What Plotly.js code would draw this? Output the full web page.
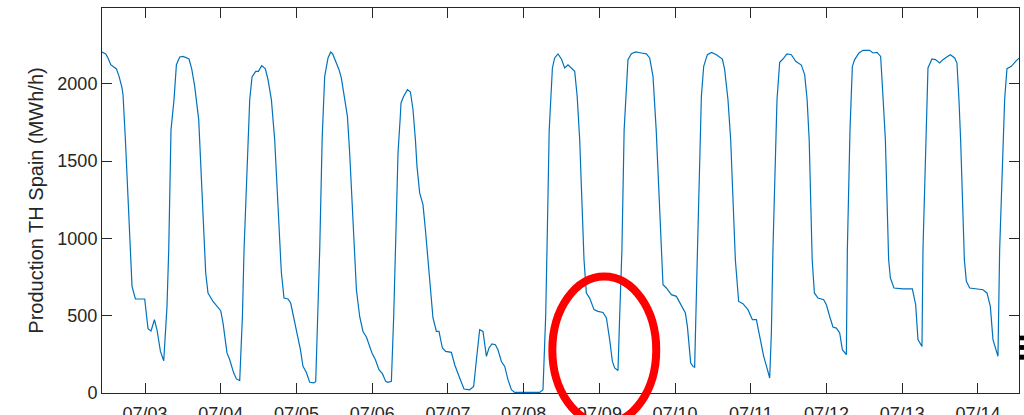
<!DOCTYPE html>
<html>
<head>
<meta charset="utf-8">
<script src="https://cdn.plot.ly/plotly-3.0.1.min.js"></script>
<style>html,body{margin:0;padding:0;background:#fff;}#chart{width:1024px;height:415px;}</style>
</head>
<body>
<div id="chart"></div>
<script>
const times = [
"2022-07-02 10:22","2022-07-02 11:33","2022-07-02 12:16","2022-07-02 13:08","2022-07-02 14:56","2022-07-02 15:46","2022-07-02 16:43","2022-07-02 17:02","2022-07-02 17:47","2022-07-02 19:53","2022-07-02 20:57","2022-07-02 23:54",
"2022-07-03 00:57","2022-07-03 01:54","2022-07-03 02:59","2022-07-03 03:48","2022-07-03 04:53","2022-07-03 05:56","2022-07-03 06:58","2022-07-03 07:31","2022-07-03 08:14","2022-07-03 09:11","2022-07-03 09:57","2022-07-03 11:00","2022-07-03 12:03","2022-07-03 13:57","2022-07-03 14:48","2022-07-03 15:45","2022-07-03 17:01","2022-07-03 18:55","2022-07-03 19:14","2022-07-03 19:58","2022-07-03 21:33","2022-07-03 23:59",
"2022-07-04 00:43","2022-07-04 01:59","2022-07-04 02:51","2022-07-04 04:07","2022-07-04 04:58","2022-07-04 06:01","2022-07-04 06:52","2022-07-04 07:23","2022-07-04 08:42","2022-07-04 09:11","2022-07-04 09:55","2022-07-04 11:05","2022-07-04 11:56","2022-07-04 12:59","2022-07-04 14:09","2022-07-04 14:59","2022-07-04 16:03","2022-07-04 17:06","2022-07-04 19:00","2022-07-04 19:14","2022-07-04 20:03","2022-07-04 21:19","2022-07-04 22:10",
"2022-07-05 00:00","2022-07-05 01:15","2022-07-05 02:04","2022-07-05 03:09","2022-07-05 04:12","2022-07-05 05:28","2022-07-05 06:06","2022-07-05 06:50","2022-07-05 07:22","2022-07-05 08:09","2022-07-05 08:57","2022-07-05 10:00","2022-07-05 10:51","2022-07-05 11:29","2022-07-05 12:26","2022-07-05 13:29","2022-07-05 14:14","2022-07-05 15:17","2022-07-05 16:09","2022-07-05 16:52","2022-07-05 18:27","2022-07-05 19:00","2022-07-05 20:02","2022-07-05 21:05","2022-07-05 22:10","2022-07-05 23:56",
"2022-07-06 01:01","2022-07-06 02:09","2022-07-06 03:14","2022-07-06 04:17","2022-07-06 05:00","2022-07-06 06:05","2022-07-06 06:49","2022-07-06 07:27","2022-07-06 08:11","2022-07-06 08:53","2022-07-06 09:08","2022-07-06 09:59","2022-07-06 11:10","2022-07-06 12:07","2022-07-06 12:56","2022-07-06 13:42","2022-07-06 14:12","2022-07-06 15:03","2022-07-06 16:06","2022-07-06 16:52","2022-07-06 17:41","2022-07-06 18:14","2022-07-06 19:16","2022-07-06 20:21","2022-07-06 21:10","2022-07-06 22:15","2022-07-06 23:18",
"2022-07-07 01:06","2022-07-07 02:09","2022-07-07 03:44","2022-07-07 05:06","2022-07-07 06:54","2022-07-07 08:10","2022-07-07 09:02","2022-07-07 10:04","2022-07-07 11:07","2022-07-07 12:12","2022-07-07 13:01","2022-07-07 13:58","2022-07-07 15:03","2022-07-07 15:52","2022-07-07 16:57","2022-07-07 18:00","2022-07-07 19:02","2022-07-07 20:07","2022-07-07 21:10",
"2022-07-08 05:05","2022-07-08 06:08","2022-07-08 06:59","2022-07-08 07:24","2022-07-08 08:06","2022-07-08 09:07","2022-07-08 09:50","2022-07-08 10:53","2022-07-08 11:58","2022-07-08 13:01","2022-07-08 14:03","2022-07-08 16:11","2022-07-08 16:58","2022-07-08 17:46","2022-07-08 19:08","2022-07-08 19:53","2022-07-08 20:56","2022-07-08 22:18","2022-07-08 23:34",
"2022-07-09 01:09","2022-07-09 02:14","2022-07-09 03:16","2022-07-09 04:08","2022-07-09 04:51","2022-07-09 05:54","2022-07-09 06:26","2022-07-09 07:09","2022-07-09 07:51","2022-07-09 08:34","2022-07-09 09:04","2022-07-09 10:09","2022-07-09 11:31","2022-07-09 13:19","2022-07-09 14:54","2022-07-09 15:57","2022-07-09 17:00","2022-07-09 18:01","2022-07-09 19:39","2022-07-09 20:10","2022-07-09 21:14","2022-07-09 22:50",
"2022-07-10 00:25","2022-07-10 01:27","2022-07-10 02:30","2022-07-10 03:16","2022-07-10 03:54","2022-07-10 04:57","2022-07-10 05:40","2022-07-10 06:12","2022-07-10 07:04","2022-07-10 07:53","2022-07-10 08:20","2022-07-10 09:04","2022-07-10 10:14","2022-07-10 11:30","2022-07-10 13:05","2022-07-10 14:59","2022-07-10 15:43","2022-07-10 16:46","2022-07-10 17:37","2022-07-10 19:06","2022-07-10 20:09","2022-07-10 21:31","2022-07-10 23:06",
"2022-07-11 00:30","2022-07-11 01:46","2022-07-11 02:49","2022-07-11 04:05","2022-07-11 05:07","2022-07-11 05:59","2022-07-11 06:31","2022-07-11 07:01","2022-07-11 08:02","2022-07-11 08:18","2022-07-11 09:09","2022-07-11 10:11","2022-07-11 11:27","2022-07-11 12:51","2022-07-11 14:13","2022-07-11 16:01","2022-07-11 17:04","2022-07-11 17:51","2022-07-11 18:30","2022-07-11 19:27","2022-07-11 20:09","2022-07-11 21:17","2022-07-11 23:06","2022-07-11 23:57",
"2022-07-12 01:00","2022-07-12 02:02","2022-07-12 03:07","2022-07-12 04:10","2022-07-12 05:01","2022-07-12 06:17","2022-07-12 06:36","2022-07-12 07:26","2022-07-12 08:11","2022-07-12 08:55","2022-07-12 10:17","2022-07-12 11:33","2022-07-12 13:40","2022-07-12 14:43","2022-07-12 15:59","2022-07-12 17:09","2022-07-12 17:53","2022-07-12 18:39","2022-07-12 19:41","2022-07-12 20:14","2022-07-12 21:22",
"2022-07-13 00:13","2022-07-13 03:12","2022-07-13 04:15","2022-07-13 04:59","2022-07-13 06:15","2022-07-13 06:34","2022-07-13 07:31","2022-07-13 08:09","2022-07-13 09:25","2022-07-13 10:30","2022-07-13 11:51","2022-07-13 12:54","2022-07-13 13:59","2022-07-13 15:15","2022-07-13 16:37","2022-07-13 17:20","2022-07-13 17:58","2022-07-13 18:30","2022-07-13 19:41","2022-07-13 20:19","2022-07-13 21:22",
"2022-07-14 01:35","2022-07-14 02:51","2022-07-14 03:55","2022-07-14 04:45","2022-07-14 05:36","2022-07-14 06:20","2022-07-14 06:52","2022-07-14 08:02","2022-07-14 08:27","2022-07-14 09:11","2022-07-14 10:35","2022-07-14 11:56","2022-07-14 12:59","2022-07-14 13:50"
];
const production = [
2205,2193,2167,2123,2096,2048,1973,1929,1638,690,608,608,
416,401,474,409,269,209,560,927,1700,1897,2123,2173,2177,2160,2096,1983,1768,862,776,647,592,532,
453,259,215,129,91,80,495,927,1700,1897,2044,2080,2080,2117,2096,2026,1897,1638,862,776,614,608,582,
409,280,172,133,69,65,73,495,927,1650,2048,2167,2205,2193,2145,2091,2037,1897,1789,1552,862,668,495,398,362,259,
215,151,125,75,69,75,495,927,1552,1780,1876,1919,1962,1947,1832,1638,1466,1294,1218,1056,862,690,485,398,398,291,269,
263,183,97,26,21,43,215,409,398,237,291,317,312,280,204,172,86,21,4,
4,21,495,927,1700,2102,2167,2193,2160,2102,2123,2080,1919,1638,862,647,614,539,528,
521,485,345,204,162,146,495,927,1700,1962,2156,2195,2206,2199,2193,2167,2048,1700,862,700,679,636,
625,582,539,517,431,194,172,166,900,1700,1919,2113,2188,2203,2188,2160,2091,1897,1638,862,592,578,539,
474,474,366,237,162,97,388,927,1700,1897,2139,2160,2193,2188,2145,2121,2059,1897,1638,862,647,614,603,571,
495,427,420,388,280,248,927,1700,2113,2156,2199,2216,2216,2199,2203,2177,1919,1638,862,744,679,
673,673,571,345,301,927,1700,2102,2160,2156,2134,2156,2171,2188,2167,2134,1897,1638,862,722,679,
668,647,560,345,291,237,927,1700,1897,2098,2113,2145,2167,2180
];
const yTicks = [0, 500, 1000, 1500, 2000];
const yTitle = "Production TH Spain (MWh/h)";

const axisColor = '#262626';
const font = {family: '"Liberation Sans", Arial, Helvetica, sans-serif', size: 18, color: axisColor};

const trace = {
  x: times, y: production, type: 'scatter', mode: 'lines',
  line: {color: '#0072BD', width: 1.2},
  hoverinfo: 'x+y'
};

const layout = {
  width: 1024, height: 415,
  margin: {l: 102, r: 5, t: 8, b: 22, pad: 0},
  paper_bgcolor: '#ffffff', plot_bgcolor: '#ffffff',
  font: font,
  showlegend: false,
  xaxis: {
    type: 'date',
    range: ['2022-07-02 10:22', '2022-07-14 13:00'],
    tick0: '2022-07-03', dtick: 86400000, tickformat: '%m/%d',
    ticks: 'inside', ticklen: 10, tickwidth: 1, tickcolor: axisColor,
    showline: true, linecolor: axisColor, linewidth: 1, mirror: 'ticks',
    showgrid: false, zeroline: false,
    tickfont: font, ticklabelstandoff: 4
  },
  yaxis: {
    range: [0, 2490],
    tickvals: yTicks, ticktext: yTicks.map(String),
    ticks: 'inside', ticklen: 10, tickwidth: 1, tickcolor: axisColor,
    showline: true, linecolor: axisColor, linewidth: 1, mirror: 'ticks',
    showgrid: false, zeroline: false,
    tickfont: font,
    title: {text: yTitle, font: {family: font.family, size: 20, color: axisColor}, standoff: 8}
  },
  shapes: [
    {type: 'circle', xref: 'paper', yref: 'paper', x0: 0.4911, x1: 0.6044, y0: -0.079, y1: 0.3029,
     line: {color: '#FF0000', width: 8}, layer: 'above'},
    {type: 'rect', xref: 'paper', yref: 'paper', x0: 1.0005, x1: 1.006, y0: 0.137, y1: 0.149, line: {width: 0}, fillcolor: '#000000', layer: 'above'},
    {type: 'rect', xref: 'paper', yref: 'paper', x0: 1.0005, x1: 1.006, y0: 0.112, y1: 0.1245, line: {width: 0}, fillcolor: '#000000', layer: 'above'},
    {type: 'rect', xref: 'paper', yref: 'paper', x0: 1.0005, x1: 1.006, y0: 0.0865, y1: 0.0995, line: {width: 0}, fillcolor: '#000000', layer: 'above'}
  ]
};

Plotly.newPlot('chart', [trace], layout, {displayModeBar: false, staticPlot: true});
</script>
</body>
</html>
